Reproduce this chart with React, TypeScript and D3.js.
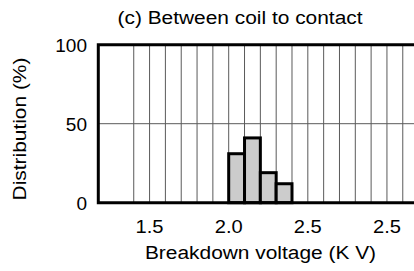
import React from 'react';
import * as d3 from 'd3';

// histogram of breakdown voltage, coil to contact
const binStarts = [2.0, 2.1, 2.2, 2.3];
const binWidth = 0.1;
const distribution = [31, 41, 19, 12];

const yTicks = [0, 50, 100];
const xTickValues = [1.5, 2.0, 2.5, 3.0];
const xTickLabels = ['1.5', '2.0', '2.5', '2.5'];
const gridValues = d3.range(14, 33).map((d) => d / 10);

const title = '(c) Between coil to contact';
const xTitle = 'Breakdown voltage (K V)';
const yTitle = 'Distribution (%)';

const width = 414;
const height = 271;
const font = '"Liberation Sans", Arial, Helvetica, sans-serif';

const x = d3.scaleLinear().domain([1.176, 3.2]).range([98.3, 418.6]);
const y = d3.scaleLinear().domain([0, 100]).range([202.7, 44.7]);

// wide-ish text, stretched along the baseline
const Label = ({ x: tx, y: ty, rotate = 0, sx = 1.1, anchor = 'middle', children }: any) => (
  <text
    transform={`translate(${tx},${ty}) rotate(${rotate}) scale(${sx},1)`}
    textAnchor={anchor}
    fontSize={19}
    fontFamily={font}
    fill="#000"
  >
    {children}
  </text>
);

const App = () => {
  const [x0, x1] = x.range();
  const [yb, yt] = y.range();

  return (
    <svg
      width={width}
      height={height}
      style={{ position: 'absolute', left: 0, top: 0, background: '#fff' }}
    >
      <rect width={width} height={height} fill="#fff" />

      {/* grid */}
      <g stroke="#5a5a5a" strokeWidth={1}>
        {gridValues.map((v) => (
          <line key={v} x1={x(v)} x2={x(v)} y1={yt} y2={yb} />
        ))}
        <line x1={x0} x2={x1} y1={y(50)} y2={y(50)} />
      </g>

      {/* bars */}
      <g fill="#cccccc" stroke="#000" strokeWidth={3}>
        {binStarts.map((s, i) => (
          <rect
            key={s}
            x={x(s)}
            y={y(distribution[i])}
            width={x(s + binWidth) - x(s)}
            height={y(0) - y(distribution[i])}
          />
        ))}
      </g>

      {/* frame */}
      <path
        d={`M${x1},${yt}H${x0}V${yb}H${x1}`}
        fill="none"
        stroke="#000"
        strokeWidth={3}
      />

      {yTicks.map((t) => (
        <Label key={t} x={87} y={y(t) + 6.8} anchor="end" sx={1}>
          {t}
        </Label>
      ))}

      {xTickValues.map((v, i) => (
        <Label key={v} x={x(v)} y={233} sx={1.06}>
          {xTickLabels[i]}
        </Label>
      ))}

      <Label x={240} y={23.5}>{title}</Label>
      <Label x={260.5} y={259.3}>{xTitle}</Label>
      <Label x={25.5} y={129} rotate={-90}>{yTitle}</Label>
    </svg>
  );
};

export default App;
